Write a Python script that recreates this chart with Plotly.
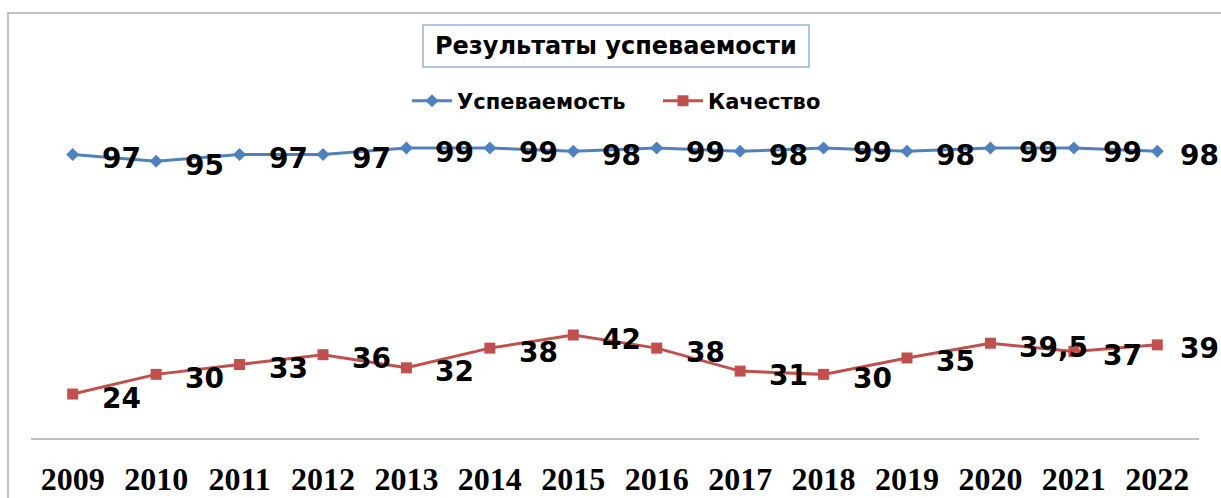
import plotly.graph_objects as go

# ---- data ----
years = ["2009", "2010", "2011", "2012", "2013", "2014", "2015",
         "2016", "2017", "2018", "2019", "2020", "2021", "2022"]
uspevaemost = [97, 95, 97, 97, 99, 99, 98, 99, 98, 99, 98, 99, 99, 98]
kachestvo = [24, 30, 33, 36, 32, 38, 42, 38, 31, 30, 35, 39.5, 37, 39]
series_names = ["Успеваемость", "Качество"]
chart_title = "Результаты успеваемости"

# ---- geometry (page pixels) ----
W, H = 1221, 498
PLOT_LEFT, PLOT_RIGHT, PLOT_TOP, PLOT_BOTTOM = 31, 1199, 79, 438
L = PLOT_LEFT
R = W - PLOT_RIGHT
T = PLOT_TOP
B = H - PLOT_BOTTOM
PW, PH = W - L - R, H - T - B


def px(x):
    return (x - L) / PW


def py(y):
    return (H - B - y) / PH


BLUE = "#4F81BD"
RED = "#C0504D"

fig = go.Figure()
fig.add_trace(go.Scatter(
    x=years, y=uspevaemost, name=series_names[0], mode="lines+markers",
    line=dict(color=BLUE, width=3),
    marker=dict(symbol="diamond", size=10, color=BLUE),
))
fig.add_trace(go.Scatter(
    x=years, y=kachestvo, name=series_names[1], mode="lines+markers",
    line=dict(color=RED, width=3),
    marker=dict(symbol="square", size=11, color=RED),
))

label_font = dict(family="DejaVu Sans", size=28, color="black", weight="bold")
annotations = []
n = len(years)
for series in (uspevaemost, kachestvo):
    for i, v in enumerate(series):
        annotations.append(dict(
            x=i, y=v, xref="x", yref="y",
            text=f"{v:g}".replace(".", ","),
            showarrow=False, xanchor="left", yanchor="middle",
            xshift=27 if i < n - 1 else 21, yshift=-4, font=label_font,
        ))

# title
annotations.append(dict(
    x=px(616), y=py(46), xref="paper", yref="paper",
    text=chart_title, showarrow=False, xanchor="center", yanchor="middle",
    font=dict(family="DejaVu Sans", size=24, color="black", weight="bold"),
))

shapes = [
    # outer chart border (top + left visible)
    dict(type="rect", xref="paper", yref="paper",
         x0=px(8), x1=px(1260), y0=py(540), y1=py(13),
         line=dict(color="#C0C0C0", width=2), fillcolor="rgba(0,0,0,0)",
         layer="below"),
    # title box
    dict(type="rect", xref="paper", yref="paper",
         x0=px(423), x1=px(809), y0=py(67), y1=py(25),
         line=dict(color="#95B3D7", width=1.5), fillcolor="white",
         layer="below"),
]

fig.update_layout(
    width=W, height=H,
    margin=dict(l=L, r=R, t=T, b=B, pad=0, autoexpand=False),
    paper_bgcolor="white", plot_bgcolor="white",
    showlegend=True,
    legend=dict(
        orientation="h", x=px(407), xanchor="left",
        y=py(101), yanchor="middle",
        font=dict(family="DejaVu Sans", size=21, color="black", weight="bold"),
        bgcolor="rgba(0,0,0,0)", itemwidth=40,
        entrywidth=196, entrywidthmode="pixels",
    ),
    annotations=annotations,
    shapes=shapes,
    xaxis=dict(
        type="category", range=[-0.5, len(years) - 0.5],
        showline=True, linecolor="#BFBFBF", linewidth=2,
        showgrid=False, zeroline=False, ticks="", automargin=False,
        tickfont=dict(family="Liberation Serif", size=32, color="black", weight="bold"),
        ticklabelstandoff=12,
    ),
    yaxis=dict(visible=False, range=[10.6, 120.05], fixedrange=True, automargin=False),
)

fig.write_html(
    "out.html",
    config={"displayModeBar": False},
    post_script="document.body.style.margin='0';document.body.style.overflow='hidden';",
)
